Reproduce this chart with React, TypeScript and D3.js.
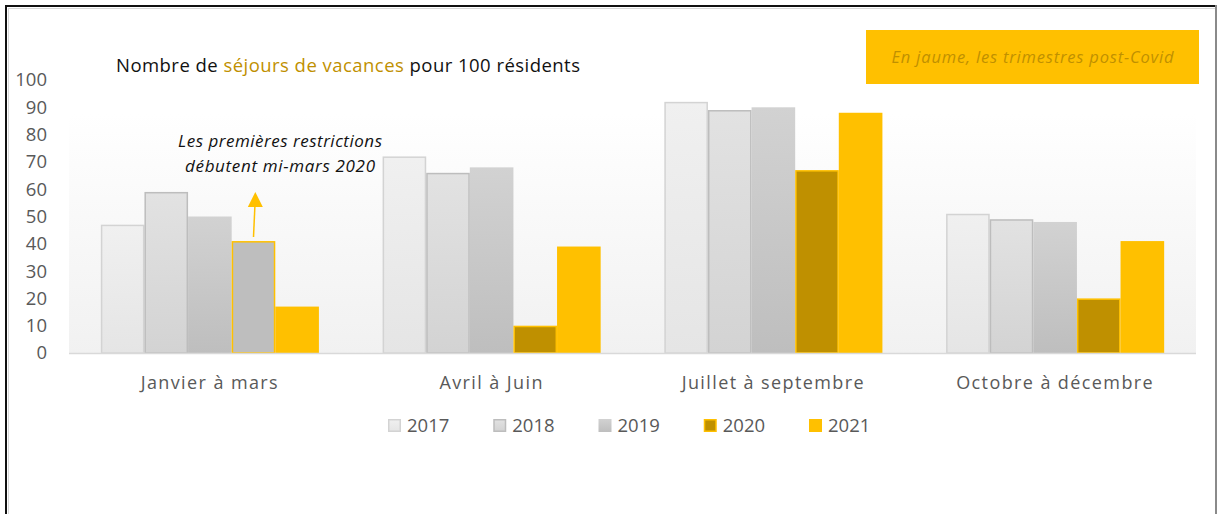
import React from "react";
import * as d3 from "d3";

const categories = ["Janvier à mars", "Avril à Juin", "Juillet à septembre", "Octobre à décembre"];
const years = ["2017", "2018", "2019", "2020", "2021"];
const v2017 = [47, 72, 92, 51];
const v2018 = [59, 66, 89, 49];
const v2019 = [50, 68, 90, 48];
const v2020 = [41, 10, 67, 20];
const v2021 = [17, 39, 88, 41];
const yTicks = [0, 10, 20, 30, 40, 50, 60, 70, 80, 90, 100];

const seriesValues = [v2017, v2018, v2019, v2020, v2021];

const W = 1218;
const H = 514;
const FONT = "'Open Sans', Lato, sans-serif";

type Style = { fill: string; stroke: string; sw: number };
const styles: Style[] = [
  { fill: "url(#g2017)", stroke: "#d3d3d3", sw: 1.5 },
  { fill: "url(#g2018)", stroke: "#bdbdbd", sw: 1.5 },
  { fill: "url(#g2019)", stroke: "none", sw: 0 },
  { fill: "#bf9000", stroke: "#ffc000", sw: 1.5 },
  { fill: "#ffc000", stroke: "none", sw: 0 },
];

export default function App() {
  const x0 = d3.scaleBand<string>().domain(categories).range([69, 1196]).paddingInner(0.226).paddingOuter(0.113);
  const x1 = d3.scaleBand<string>().domain(years).range([0, x0.bandwidth()]).padding(0);
  const y = d3.scaleLinear().domain([0, 100]).range([353, 80]);

  const annX = (x0(categories[0]) ?? 0) + (x1("2020") ?? 0) + x1.bandwidth() / 2;
  const annBottom = y(v2020[0]) - 4;
  const annTip = y(59);

  const legendX = d3.scalePoint<string>().domain(years).range([388, 809]);

  return (
    <svg width={W} height={H} style={{ position: "absolute", left: 0, top: 0, background: "#fff" }}>
      <defs>
        <linearGradient id="bg" x1="0" y1="0" x2="0" y2="1">
          <stop offset="0" stopColor="#ffffff" />
          <stop offset="1" stopColor="#f1f1f1" />
        </linearGradient>
        <linearGradient id="g2017" x1="0" y1="0" x2="0" y2="1">
          <stop offset="0" stopColor="#f0f0f0" />
          <stop offset="1" stopColor="#e5e5e5" />
        </linearGradient>
        <linearGradient id="g2018" x1="0" y1="0" x2="0" y2="1">
          <stop offset="0" stopColor="#e2e2e2" />
          <stop offset="1" stopColor="#d3d3d3" />
        </linearGradient>
        <linearGradient id="g2019" x1="0" y1="0" x2="0" y2="1">
          <stop offset="0" stopColor="#d2d2d2" />
          <stop offset="1" stopColor="#bebebe" />
        </linearGradient>
      </defs>

      <rect x={0} y={0} width={W} height={H} fill="#fff" />
      {/* outer frame */}
      <line x1={5} y1={6} x2={1216} y2={6} stroke="#111" strokeWidth={2} />
      <line x1={6} y1={5} x2={6} y2={H} stroke="#111" strokeWidth={2} />
      <line x1={8.5} y1={8} x2={8.5} y2={H} stroke="#d8d8d8" strokeWidth={1} />
      <line x1={8} y1={8.5} x2={1215} y2={8.5} stroke="#d8d8d8" strokeWidth={1} />
      <line x1={1216} y1={5} x2={1216} y2={H} stroke="#8a8a8a" strokeWidth={2} />

      {/* plot background */}
      <rect x={69} y={113} width={1127} height={241} fill="url(#bg)" />

      {/* title */}
      <text x={116} y={72} fontFamily={FONT} fontSize={18.5} fill="#111" textLength={464} lengthAdjust="spacing">
        Nombre de <tspan fill="#bf9000">séjours de vacances</tspan> pour 100 résidents
      </text>

      {/* top-right box */}
      <rect x={866} y={30} width={333} height={54} fill="#ffc000" />
      <text x={1032.5} y={63} textAnchor="middle" fontFamily={FONT} fontStyle="italic" fontSize={16.5} fill="#bf9000" textLength={282} lengthAdjust="spacing">
        En jaume, les trimestres post-Covid
      </text>

      {/* y axis labels */}
      {yTicks.map((t) => (
        <text key={t} x={47} y={y(t)} dy="0.35em" textAnchor="end" fontFamily={FONT} fontSize={18.5} fill="#595959">
          {t}
        </text>
      ))}

      {/* bars */}
      {categories.map((c, ci) => (
        <g key={c} transform={`translate(${x0(c)},0)`}>
          {years.map((yr, si) => {
            const v = seriesValues[si][ci];
            let st = styles[si];
            if (si === 3 && ci === 0) st = { fill: "#bebebe", stroke: "#ffc000", sw: 1.5 };
            const bx = x1(yr) ?? 0;
            return (
              <rect
                key={yr}
                x={bx + st.sw / 2}
                y={y(v) + st.sw / 2}
                width={x1.bandwidth() - st.sw}
                height={y(0) - y(v) - st.sw / 2}
                fill={st.fill}
                stroke={st.stroke}
                strokeWidth={st.sw}
              />
            );
          })}
        </g>
      ))}

      {/* baseline */}
      <line x1={69} x2={1196} y1={y(0) + 0.5} y2={y(0) + 0.5} stroke="#d9d9d9" strokeWidth={1.5} />

      {/* x labels */}
      {categories.map((c) => (
        <text
          key={c}
          x={(x0(c) ?? 0) + x0.bandwidth() / 2}
          y={389}
          textAnchor="middle"
          fontFamily={FONT}
          fontSize={18}
          letterSpacing={1.4}
          fill="#595959"
        >
          {c}
        </text>
      ))}

      {/* annotation */}
      <text x={280} y={147} textAnchor="middle" fontFamily={FONT} fontStyle="italic" fontSize={17} fill="#111" textLength={204} lengthAdjust="spacing">
        Les premières restrictions
      </text>
      <text x={280} y={172} textAnchor="middle" fontFamily={FONT} fontStyle="italic" fontSize={17} fill="#111" textLength={190} lengthAdjust="spacing">
        débutent mi-mars 2020
      </text>
      <line x1={annX} y1={annBottom} x2={annX + 1.5} y2={annTip + 12} stroke="#ffc000" strokeWidth={1.5} />
      <polygon
        points={`${annX + 1.8},${annTip} ${annX - 5.7},${annTip + 15} ${annX + 9.3},${annTip + 15}`}
        fill="#ffc000"
      />

      {/* legend */}
      {years.map((yr, si) => {
        const st = styles[si];
        const lx = legendX(yr) ?? 0;
        return (
          <g key={yr} transform={`translate(${lx},419)`}>
            <rect
              x={st.sw / 2}
              y={st.sw / 2}
              width={13 - st.sw}
              height={13 - st.sw}
              fill={st.fill}
              stroke={st.stroke}
              strokeWidth={st.sw}
            />
            <text x={19} y={6.5} dy="0.35em" fontFamily={FONT} fontSize={18.5} fill="#595959">
              {yr}
            </text>
          </g>
        );
      })}
    </svg>
  );
}
